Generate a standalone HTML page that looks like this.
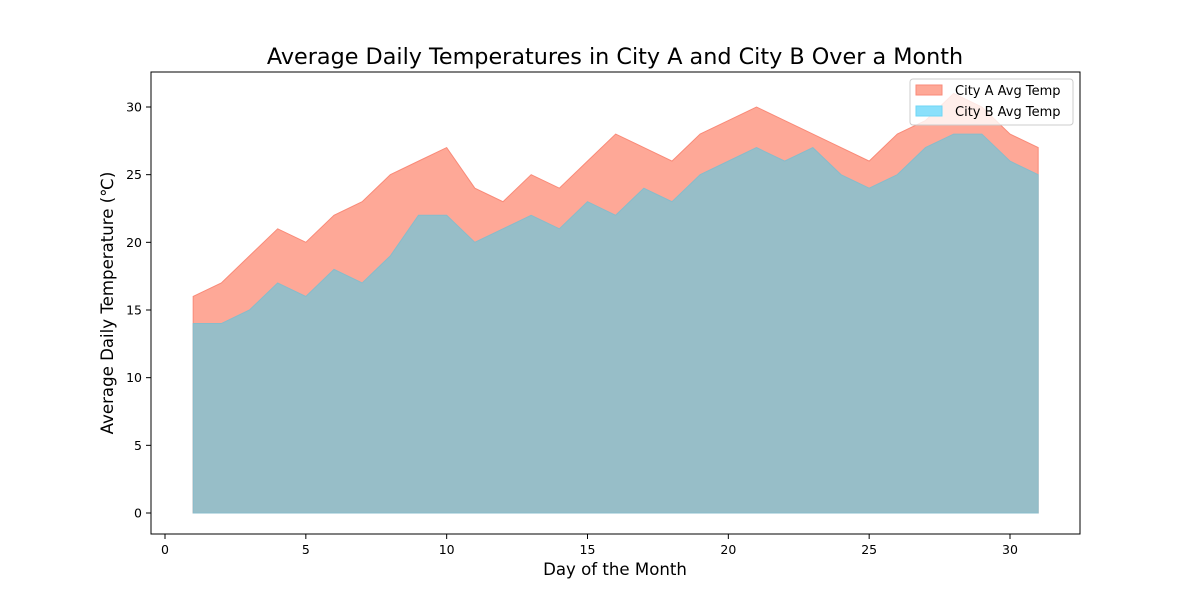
<!DOCTYPE html>
<html><head><meta charset="utf-8"><style>body{margin:0;background:#fff}svg{display:block;font-family:"DejaVu Sans","Liberation Sans",sans-serif}</style></head>
<body>
<svg id="chart" width="1200" height="600">
<text x="615" y="64" font-size="22.3" text-anchor="middle">Average Daily Temperatures in City A and City B Over a Month</text>
<g id="plot"></g>
<rect x="151" y="72" width="929" height="462" fill="none" stroke="#000" stroke-width="1"/>
<text x="615" y="575" font-size="16.6" text-anchor="middle">Day of the Month</text>
<text transform="translate(113,303) rotate(-90)" font-size="16.6" text-anchor="middle">Average Daily Temperature (℃)</text>
<g>
<rect x="910" y="79" width="163" height="46" rx="3" fill="#fff" fill-opacity="0.8" stroke="#ccc"/>
<rect x="916" y="85" width="26" height="10" fill="#fea897" stroke="#f98a78"/>
<text x="955" y="95" font-size="13">City A Avg Temp</text>
<rect x="916" y="106" width="26" height="10" fill="#8ae0fb" stroke="#6fd6f5"/>
<text x="955" y="116" font-size="13">City B Avg Temp</text>
</g>
</svg>
<script>
const days=[1,2,3,4,5,6,7,8,9,10,11,12,13,14,15,16,17,18,19,20,21,22,23,24,25,26,27,28,29,30,31];
const cityA=[16,17,19,21,20,22,23,25,26,27,24,23,25,24,26,28,27,26,28,29,30,29,28,27,26,28,29,31,30,28,27];
const cityB=[14,14,15,17,16,18,17,19,22,22,20,21,22,21,23,22,24,23,25,26,27,26,27,25,24,25,27,28,28,26,25];
const xTicks=[0,5,10,15,20,25,30];
const yTicks=[0,5,10,15,20,25,30];
const xs=d=>165+d*(845/30);
const ys=v=>513-v*(406/30);
const NS="http://www.w3.org/2000/svg";
const plot=document.getElementById('plot');
function area(vals,fill,stroke,name){
  let d='M'+xs(days[0])+','+ys(0);
  days.forEach((t,i)=>{d+=' L'+xs(t)+','+ys(vals[i]);});
  d+=' L'+xs(days[days.length-1])+','+ys(0)+' Z';
  const p=document.createElementNS(NS,'path');
  p.setAttribute('d',d);p.setAttribute('fill',fill);p.setAttribute('stroke',stroke);p.setAttribute('stroke-width','1');
  
  
  plot.appendChild(p);
}
area(cityA,'#fea897','#f98a78','area-city-a');
area(cityB,'#97bec8','#88bccb','area-city-b');
xTicks.forEach(t=>{
  const l=document.createElementNS(NS,'line');
  l.setAttribute('x1',xs(t));l.setAttribute('x2',xs(t));l.setAttribute('y1',534);l.setAttribute('y2',539);l.setAttribute('stroke','#000');
  
  
  plot.appendChild(l);
  const tx=document.createElementNS(NS,'text');
  tx.setAttribute('x',xs(t));tx.setAttribute('y',554);tx.setAttribute('font-size','12.5');tx.setAttribute('text-anchor','middle');
  tx.textContent=t;
  
  
  plot.appendChild(tx);
});
yTicks.forEach(t=>{
  const l=document.createElementNS(NS,'line');
  l.setAttribute('x1',146);l.setAttribute('x2',151);l.setAttribute('y1',ys(t));l.setAttribute('y2',ys(t));l.setAttribute('stroke','#000');
  
  
  plot.appendChild(l);
  const tx=document.createElementNS(NS,'text');
  tx.setAttribute('x',142);tx.setAttribute('y',ys(t)+4.5);tx.setAttribute('font-size','12.5');tx.setAttribute('text-anchor','end');
  tx.textContent=t;
  
  
  plot.appendChild(tx);
});
</script>
</body></html>
